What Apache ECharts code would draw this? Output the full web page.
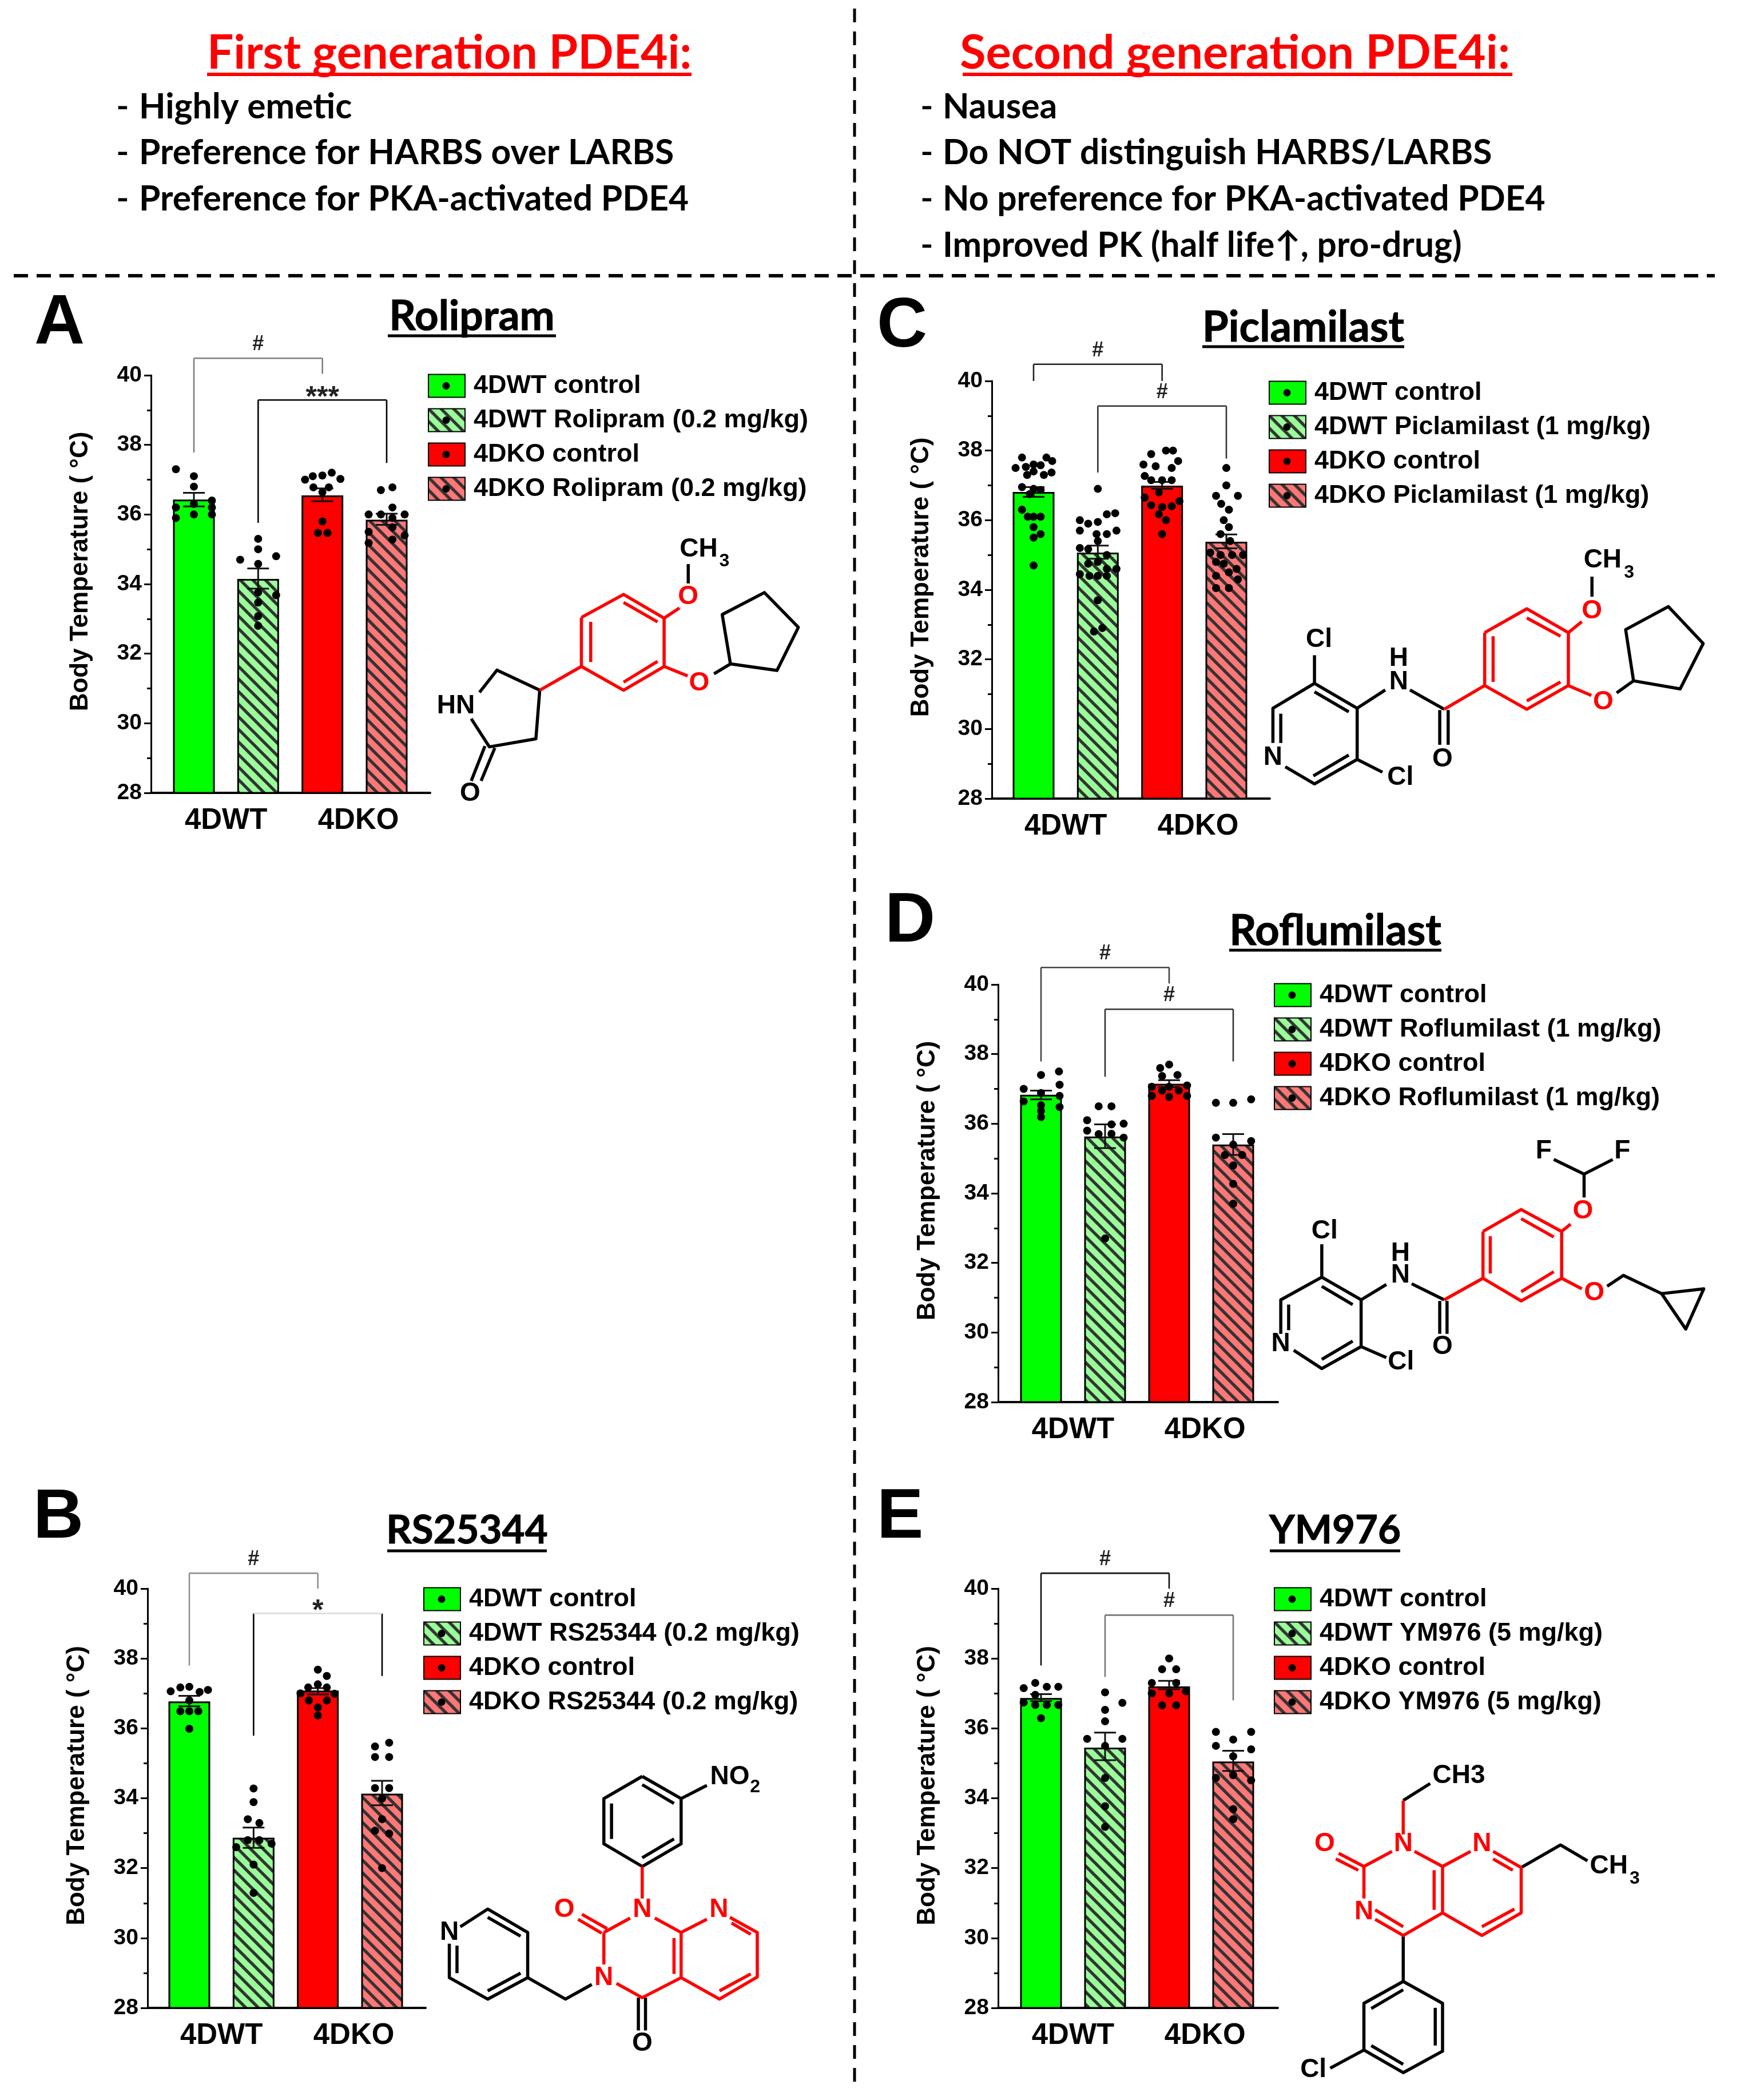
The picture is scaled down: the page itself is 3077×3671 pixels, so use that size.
<!DOCTYPE html>
<html><head><meta charset="utf-8">
<style>html,body{margin:0;padding:0;background:#fff}#c{width:3077px;height:3671px}</style>
<script src="https://cdn.jsdelivr.net/npm/echarts@6/dist/echarts.min.js"></script>
</head><body><div id="c"></div>
<script>
// ---------- data ----------
const categories = ['4DWT', '4DKO'];
const yTicks = [28, 30, 32, 34, 36, 38, 40];

const rolipramLegend = ['4DWT control', '4DWT Rolipram (0.2 mg/kg)', '4DKO control', '4DKO Rolipram (0.2 mg/kg)'];
const rolipramMeans = [36.43, 34.15, 36.55, 35.85];
const rolipramLow = [36.23, 33.87, 36.38, 35.7];
const rolipramHigh = [36.62, 34.45, 36.75, 36.02];
const rolipramDots1 = [[-.28,37.3],[0,37.1],[0,36.8],[-.28,36.2],[0,36.3],[.28,36.4],[.28,36.2],[.28,36.0],[-.28,35.9],[0,36.0]];
const rolipramDots2 = [[0,35.3],[0,35.0],[-.28,34.7],[.28,34.8],[0,34.58],[.28,33.68],[0,33.76],[0,33.47],[0,33.08],[0,32.8]];
const rolipramDots3 = [[-.27,37.0],[-.15,37.1],[0,37.12],[.145,37.2],[.28,37.02],[-.14,36.78],[.1,36.78],[0,36.64],[0,35.8],[-.07,35.47],[.08,35.47]];
const rolipramDots4 = [[-.09,36.7],[.09,36.78],[.09,36.2],[-.28,36.0],[-.09,36.0],[.28,36.0],[.09,35.9],[-.28,35.5],[.28,35.4],[.09,35.63],[.09,35.28],[-.28,35.18]];

const rsLegend = ['4DWT control', '4DWT RS25344 (0.2 mg/kg)', '4DKO control', '4DKO RS25344 (0.2 mg/kg)'];
const rsMeans = [36.77, 32.87, 37.08, 34.13];
const rsLow = [36.63, 32.58, 36.97, 33.8];
const rsHigh = [36.93, 33.16, 37.15, 34.5];
const rsDots1 = [[-.29,37.06],[-.14,37.17],[0,37.19],[.16,37.04],[.29,37.1],[0,36.8],[-.14,36.49],[0,36.49],[.14,36.49],[0,35.99]];
const rsDots2 = [[0,34.28],[0,33.89],[-.09,33.4],[.09,33.29],[-.09,32.8],[.09,32.8],[-.27,32.6],[.28,32.7],[0,32.1],[0,31.29]];
const rsDots3 = [[0,37.68],[.14,37.5],[-.15,37.17],[0,37.26],[.14,37.17],[.26,36.99],[-.27,37.0],[-.14,36.8],[.14,36.8],[0,36.6],[0,36.37]];
const rsDots4 = [[-.11,35.48],[.11,35.59],[-.11,35.18],[.11,35.18],[-.11,34.29],[.11,34.29],[0,33.99],[0,33.4],[-.11,33.07],[.11,32.99],[0,32.0]];

const piclaLegend = ['4DWT control', '4DWT Piclamilast (1 mg/kg)', '4DKO control', '4DKO Piclamilast (1 mg/kg)'];
const piclaMeans = [36.81, 35.07, 36.99, 35.38];
const piclaLow = [36.67, 34.89, 36.9, 35.19];
const piclaHigh = [36.95, 35.27, 37.1, 35.59];
const piclaDots1 = [[-.18,37.8],[.2,37.8],[0,37.6],[-.28,37.5],[-.12,37.53],[.11,37.58],[.29,37.7],[-.1,37.3],[0,37.4],[.16,37.3],[.28,37.37],[-.18,36.95],[0,36.9],[.11,36.87],[-.06,36.75],[-.18,36.3],[-.09,36.1],[0,36.1],[.11,36.1],[0,35.8],[.11,35.6],[0,35.5],[0,34.7]];
const piclaDots2 = [[0,36.9],[.14,36.17],[.27,36.2],[-.28,36.0],[-.15,35.9],[0,35.95],[-.28,35.7],[-.02,35.6],[.14,35.6],[.29,35.7],[0,35.4],[-.28,35.2],[-.15,35.17],[.14,35.0],[0,34.8],[-.15,34.75],[.14,34.6],[.29,34.6],[-.28,34.45],[-.13,34.4],[0,34.4],[.14,34.4],[0,33.7],[.07,32.9],[-.06,32.8]];
const piclaDots3 = [[-.17,37.9],[.06,38.0],[.17,38.0],[-.29,37.6],[-.1,37.55],[.25,37.7],[.15,37.5],[-.27,37.27],[-.17,37.15],[0,37.15],[.15,37.15],[-.05,36.8],[-.27,36.65],[.27,36.55],[-.17,36.43],[0,36.38],[.15,36.4],[-.05,36.17],[.06,36.0],[0,35.6]];
const piclaDots4 = [[0,37.5],[0,37.0],[-.16,36.7],[.18,36.7],[-.08,36.47],[.04,36.3],[-.04,36.0],[.04,35.8],[-.09,35.6],[.06,35.4],[-.25,35.07],[-.09,35.0],[.09,35.0],[.26,35.0],[-.16,34.8],[-.04,34.75],[.16,34.6],[-.16,34.4],[.04,34.5],[.18,34.3],[-.16,34.05],[.04,34.05]];

const roflLegend = ['4DWT control', '4DWT Roflumilast (1 mg/kg)', '4DKO control', '4DKO Roflumilast (1 mg/kg)'];
const roflMeans = [36.83, 35.63, 37.15, 35.4];
const roflLow = [36.7, 35.3, 37.05, 35.1];
const roflHigh = [36.95, 35.98, 37.25, 35.7];
const roflDots1 = [[.28,37.5],[0,37.4],[.29,37.12],[-.27,37.0],[0,36.88],[.29,36.8],[-.27,36.64],[0,36.53],[.29,36.48],[0,36.37],[0,36.19]];
const roflDots2 = [[-.1,36.5],[.1,36.5],[-.28,36.1],[.1,35.98],[.29,36.0],[-.28,35.8],[-.1,35.7],[.1,35.71],[.29,35.6],[0,32.7]];
const roflDots3 = [[0,37.7],[-.14,37.6],[-.11,37.37],[.13,37.4],[-.27,37.06],[0,37.06],[.28,37.1],[-.27,36.8],[-.11,36.95],[.15,36.95],[0,36.77],[.28,36.8]];
const roflDots4 = [[-.27,36.6],[0,36.6],[.28,36.7],[-.27,35.6],[.28,35.5],[0,35.4],[-.13,35.1],[.14,35.1],[0,34.8],[0,34.27],[0,33.7]];

const ymLegend = ['4DWT control', '4DWT YM976 (5 mg/kg)', '4DKO control', '4DKO YM976 (5 mg/kg)'];
const ymMeans = [36.87, 35.45, 37.2, 35.05];
const ymLow = [36.78, 35.09, 37.12, 34.78];
const ymHigh = [36.98, 35.88, 37.36, 35.36];
const ymDots1 = [[-.27,37.15],[-.09,37.3],[.09,37.19],[.27,37.19],[-.09,36.96],[-.27,36.74],[-.09,36.67],[.09,36.67],[.27,36.67],[0,36.29]];
const ymDots2 = [[0,37.03],[.27,36.73],[0,36.53],[0,36.2],[-.28,35.7],[.27,35.7],[0,35.5],[0,34.58],[0,33.77],[0,33.18]];
const ymDots3 = [[0,38.0],[-.11,37.69],[.11,37.69],[-.27,37.3],[.11,37.3],[-.27,37.0],[0,37.0],[.26,37.06],[-.11,36.66],[.11,36.66]];
const ymDots4 = [[-.27,35.9],[.28,35.9],[0,35.68],[-.27,35.5],[.28,35.4],[0,35.2],[-.27,34.58],[0,34.66],[.28,34.51],[0,33.69],[0,33.4]];

// significance brackets: x from, x to, top value, left foot value, right foot value, label
const rolipramBrackets = [[1,3,40.49,37.78,40.04,'#'],[2,4,39.29,35.76,37.48,'***']];
const rsBrackets = [[1,3,40.44,37.8,40.0,'#'],[2,4,39.29,35.79,37.5,'*']];
const piclaBrackets = [[1,3,40.48,40.0,40.0,'#'],[2,4,39.28,37.37,37.77,'#']];
const roflBrackets = [[1,3,40.49,37.79,40.03,'#'],[2,4,39.29,37.35,37.79,'#']];
const ymBrackets = [[1,3,40.44,37.8,40.0,'#'],[2,4,39.24,37.47,36.8,'#']];

// ---------- helpers ----------
const SANS = '"Liberation Sans", Arial, sans-serif';
const HEAD = 'Lato, "Open Sans", sans-serif';
function hatch(bg) {
  const n = 22, c = document.createElement('canvas');
  c.width = n; c.height = n;
  const g = c.getContext('2d');
  g.fillStyle = bg; g.fillRect(0, 0, n, n);
  g.strokeStyle = '#333'; g.lineWidth = 5.4;
  for (const d of [-n, 0, n]) { g.beginPath(); g.moveTo(d - 2, -2); g.lineTo(d + n + 2, n + 2); g.stroke(); }
  return { image: c, repeat: 'repeat' };
}
const fills = ['#00FF00', hatch('#99FF99'), '#FF0000', hatch('#FF7777')];

const panels = [
  { title:'Rolipram', titleSize:73, titleBox:[678,972,587], letter:'A', letterPos:[60,628], axisX:264, right:752, y40:656, y28:1386, cx:[339,676], barW:73,
    legend:rolipramLegend, legendPos:[748,653], means:rolipramMeans, low:rolipramLow, high:rolipramHigh, dots:[rolipramDots1,rolipramDots2,rolipramDots3,rolipramDots4], brackets:rolipramBrackets, bracketColors:['#808080','#000'] },
  { title:'RS25344', titleSize:69, titleBox:[677,956,2711], letter:'B', letterPos:[58,2715], axisX:258, right:744, y40:2777, y28:3510, cx:[331,668], barW:73,
    legend:rsLegend, legendPos:[740,2774], means:rsMeans, low:rsLow, high:rsHigh, dots:[rsDots1,rsDots2,rsDots3,rsDots4], brackets:rsBrackets, bracketColors:['#909090','#000'], topColors:[null,'#DDD'] },
  { title:'Piclamilast', titleSize:74, titleBox:[2102,2455,606], letter:'C', letterPos:[1533,633], axisX:1734, right:2220, y40:666, y28:1396, cx:[1807,2144], barW:73,
    legend:piclaLegend, legendPos:[2218,665], means:piclaMeans, low:piclaLow, high:piclaHigh, dots:[piclaDots1,piclaDots2,piclaDots3,piclaDots4], brackets:piclaBrackets, bracketColors:['#222','#333'] },
  { title:'Roflumilast', titleSize:74, titleBox:[2149,2520,1661], letter:'D', letterPos:[1547,1673], axisX:1745, right:2234, y40:1721, y28:2451, cx:[1820,2156], barW:73,
    legend:roflLegend, legendPos:[2227,1718], means:roflMeans, low:roflLow, high:roflHigh, dots:[roflDots1,roflDots2,roflDots3,roflDots4], brackets:roflBrackets, bracketColors:['#444','#333'] },
  { title:'YM976', titleSize:69, titleBox:[2220,2448,2711], letter:'E', letterPos:[1533,2715], axisX:1745, right:2234, y40:2777, y28:3510, cx:[1820,2156], barW:73,
    legend:ymLegend, legendPos:[2227,2774], means:ymMeans, low:ymLow, high:ymHigh, dots:[ymDots1,ymDots2,ymDots3,ymDots4], brackets:ymBrackets, bracketColors:['#111','#777'] }
];

const grid = [], xAxis = [], yAxis = [], series = [], legend = [], title = [], elements = [];

function text(t, x, y, font, fill, align, vAlign, extra) {
  elements.push(Object.assign({ type:'text', x, y, z:100, silent:true,
    style:{ text:t, font, fill:fill||'#000', align:align||'left', verticalAlign:vAlign||'bottom' } }, extra||{}));
}
function line(x1, y1, x2, y2, color, w, dash) {
  elements.push({ type:'line', z:90, silent:true, shape:{x1,y1,x2,y2},
    style:{ stroke:color||'#000', lineWidth:w||5, lineDash:dash||null } });
}

panels.forEach((p, i) => {
  const unit = (p.cx[1] - p.cx[0]) / 3;
  grid.push({ left:p.axisX, top:p.y40, width:p.right - p.axisX, height:p.y28 - p.y40, containLabel:false });
  xAxis.push({ gridIndex:i, type:'value', min:1 - (p.cx[0] - p.axisX) / unit, max:4 + (p.right - p.cx[1]) / unit,
    axisLine:{ show:true, onZero:false, lineStyle:{ color:'#000', width:4 } }, axisTick:{ show:false }, splitLine:{ show:false },
    axisLabel:{ show:true, customValues:[1.5, 3.56], formatter:v => v < 2.5 ? categories[0] : categories[1],
      color:'#000', fontFamily:SANS, fontWeight:'bold', fontSize:51, margin:23 } });
  yAxis.push({ gridIndex:i, type:'value', min:yTicks[0], max:yTicks[yTicks.length-1], interval:2,
    name:'Body Temperature ( \u00B0C)', nameLocation:'middle', nameRotate:90, nameGap:101,
    nameTextStyle:{ color:'#000', fontFamily:SANS, fontWeight:'bold', fontSize:44, padding:[0,0,0,44] },
    axisLine:{ show:true, onZero:false, lineStyle:{ color:'#000', width:3 } },
    axisTick:{ show:true, length:12, lineStyle:{ color:'#000', width:3 } },
    minorTick:{ show:true, splitNumber:2, length:7, lineStyle:{ color:'#000', width:3 } },
    splitLine:{ show:false }, minorSplitLine:{ show:false },
    axisLabel:{ color:'#000', fontFamily:SANS, fontWeight:'bold', fontSize:39, margin:16 } });

  p.means.forEach((m, k) => {
    series.push({ type:'bar', name:p.legend[k], xAxisIndex:i, yAxisIndex:i, barWidth:p.barW, barGap:'-100%',
      data:[[k + 1, m]], z:2, itemStyle:{ color:fills[k], borderColor:'#000', borderWidth:3 }, silent:true, animation:false });
  });
  // error bars
  series.push({ type:'custom', xAxisIndex:i, yAxisIndex:i, z:3, silent:true, animation:false, clip:false,
    data:p.means.map((m, k) => [k + 1, p.low[k], p.high[k]]),
    encode:{ x:0, y:[1,2] },
    renderItem:(params, api) => {
      const a = api.coord([api.value(0), api.value(1)]), b = api.coord([api.value(0), api.value(2)]);
      const st = { stroke:'#111', lineWidth:3 };
      return { type:'group', children:[
        { type:'line', shape:{ x1:a[0], y1:a[1], x2:b[0], y2:b[1] }, style:st },
        { type:'line', shape:{ x1:a[0]-19, y1:a[1], x2:a[0]+19, y2:a[1] }, style:st },
        { type:'line', shape:{ x1:b[0]-19, y1:b[1], x2:b[0]+19, y2:b[1] }, style:st } ] };
    } });
  // individual animals
  p.dots.forEach((d, k) => {
    series.push({ type:'scatter', xAxisIndex:i, yAxisIndex:i, z:4, symbol:'circle', symbolSize:14, silent:true, animation:false,
      itemStyle:{ color:'#000', opacity:1 }, data:d.map(v => [k + 1 + v[0], v[1]]) });
  });
  // brackets
  series.push({ type:'custom', xAxisIndex:i, yAxisIndex:i, z:5, silent:true, animation:false, clip:false,
    data:p.brackets.map((b, j) => b.concat(p.bracketColors[j])),
    encode:{ x:[0,1], y:[2,3,4] },
    renderItem:(params, api) => {
      const x1 = api.value(0), x2 = api.value(1), top = api.value(2);
      const tl = api.coord([x1, top]), tr = api.coord([x2, top]);
      const fl = api.coord([x1, api.value(3)]), fr = api.coord([x2, api.value(4)]);
      const mid = api.coord([(x1 + x2) / 2, top]);
      const src = p.brackets[params.dataIndex];
      const hash = src[5] === '#';
      const col = p.bracketColors[params.dataIndex];
      const topCol = (p.topColors && p.topColors[params.dataIndex]) || col;
      return { type:'group', children:[
        { type:'polyline', shape:{ points:[fl, tl] }, style:{ stroke:col, lineWidth:2.6, fill:null } },
        { type:'polyline', shape:{ points:[tr, fr] }, style:{ stroke:col, lineWidth:2.6, fill:null } },
        { type:'polyline', shape:{ points:[tl, tr] }, style:{ stroke:topCol, lineWidth:2.6, fill:null } },
        { type:'text', x:mid[0], y:mid[1] + (hash ? -6 : 22), style:{ text:src[5], font:'bold ' + (hash ? 36 : 50) + 'px ' + SANS, fill:'#222', align:'center', verticalAlign:'bottom' } } ] };
    } });

  legend.push({ orient:'vertical', left:p.legendPos[0], top:p.legendPos[1] - 1, itemWidth:64, itemHeight:40, itemGap:15, padding:0,
    icon:'rect', selectedMode:false, data:p.legend, animation:false,
    textStyle:{ color:'#000', fontFamily:SANS, fontWeight:'bold', fontSize:45, padding:[0,0,0,10] } });
  p.legend.forEach((n, k) => {
    elements.push({ type:'circle', z:100, silent:true, shape:{ cx:p.legendPos[0] + 32, cy:p.legendPos[1] + 21.5 + 60 * k, r:6.5 }, style:{ fill:'#000' } });
  });

  const [tl, tr, ul] = p.titleBox;
  title.push({ text:p.title, left:(tl + tr) / 2, top:ul - 70, textAlign:'center', padding:0,
    textStyle:{ color:'#000', fontFamily:HEAD, fontWeight:'bold', fontSize:p.titleSize, textBorderColor:'#000', textBorderWidth:1 } });
  line(tl, ul, tr, ul, '#000', 5);
  text(p.letter, p.letterPos[0], p.letterPos[1], 'bold 122px ' + SANS, '#000');
});

// ---------- header text ----------
const firstGen = ['Highly emetic', 'Preference for HARBS over LARBS', 'Preference for PKA-activated PDE4'];
const secondGen = ['Nausea', 'Do NOT distinguish HARBS/LARBS', 'No preference for PKA-activated PDE4', 'Improved PK (half life\u2191, pro-drug)'];
const rowY = [206, 286, 367, 448];
text('First generation PDE4i:', 362, 135, 'bold 82px ' + HEAD, '#FF0000');
text('Second generation PDE4i:', 1678, 135, 'bold 83px ' + HEAD, '#FF0000');
line(362, 130, 1209, 130, '#FF0000', 6);
line(1683, 130, 2644, 130, '#FF0000', 6);
firstGen.forEach((t, i) => { text('-', 203, rowY[i] + 12, '600 61px ' + HEAD); text(t, 243, rowY[i] + 12, 'bold 60.5px ' + HEAD); });
secondGen.forEach((t, i) => { text('-', 1609, rowY[i] + 12, '600 61px ' + HEAD); text(t, 1648, rowY[i] + 12, 'bold 60.5px ' + HEAD); });
line(1494, 15, 1494, 3645, '#000', 5, [24, 16]);
line(24, 482, 2998, 482, '#000', 6, [25, 15]);

// ---------- molecule drawings (decorative, positions in crop space) ----------
function molecule(x0, y0, sx, sy, red, black, labels) {
  const map = a => { const pts = []; for (let i = 0; i < a.length; i += 2) pts.push([x0 + a[i] * sx, y0 + a[i+1] * sy]); return pts; };
  const add = (lst, col) => lst.forEach(a => elements.push({ type:'polyline', z:95, silent:true, shape:{ points:map(a) },
    style:{ stroke:col, lineWidth:5.5, fill:null, lineJoin:'round' } }));
  add(black, '#000'); add(red, '#FF0000');
  labels.forEach(l => {
    const small = l[3] === 's';
    text(l[0], x0 + l[1] * sx, y0 + l[2] * sy, 'bold ' + (small ? '32px ' : '46px ') + SANS, l[3] === 'r' ? '#FF0000' : '#000', 'center', 'middle');
  });
}
const A = [0, 480, .958, .639], C = [1540, 500, .982, .639], D = [1540, 1600, .982, .639], B = [0, 2640, .958, .659], E = [1540, 2640, .982, .659];
molecule(...A,
  [[1061,938,1138,875,1212,940,1212,1072,1138,1137,1061,1072,1061,938],[1078,950,1078,1060],[1138,897,1200,950],[1138,1115,1200,1058],[1061,1072,985,1137],[1212,940,1240,912],[1212,1072,1255,1098]],
  [[1256,792,1256,845],[1303,1092,1333,1065,1418,1083,1457,965,1395,870,1318,930,1333,1065],[985,1137,907,1082,875,1143],[860,1215,893,1292,978,1270,985,1137],[885,1290,860,1385],[903,1295,878,1385]],
  [['O',1256,882,'r'],['O',1276,1118,'r'],['CH',1275,752],['3',1322,785,'s'],['HN',832,1180],['O',858,1420]]);
molecule(...C,
  [[1075,948,1150,883,1224,948,1224,1093,1150,1158,1075,1093,1075,948],[1090,958,1090,1083],[1150,908,1210,958],[1150,1135,1210,1083],[1075,1093,1003,1158],[1224,948,1248,918],[1224,1093,1265,1120]],
  [[1266,795,1266,850],[1310,1113,1340,1080,1423,1102,1464,978,1402,877,1326,940,1340,1080],[1003,1158,942,1105],[995,1160,995,1255],[1010,1160,1010,1255],[848,1155,898,1105],[720,1315,772,1362,848,1295,848,1155,772,1087,698,1155,698,1250],[772,1110,833,1165],[770,1340,833,1283],[712,1170,712,1250],[772,1087,772,1010],[848,1295,893,1330]],
  [['O',1266,890,'r'],['O',1286,1138,'r'],['CH',1285,750],['3',1332,785,'s'],['O',1000,1295],['H',922,1020],['N',922,1083],['N',698,1290],['Cl',780,968],['Cl',925,1345]]);
molecule(...D,
  [[1072,865,1140,805,1212,865,1212,993,1140,1055,1072,993,1072,865],[1085,878,1085,980],[1140,830,1198,880],[1140,1030,1198,975],[1072,993,1003,1052],[1212,865,1228,845],[1212,993,1248,1022]],
  [[1252,772,1252,708],[1198,668,1252,708,1303,668],[1293,1015,1322,985,1390,1035],[1390,1035,1465,1022,1433,1132,1390,1035],[995,1055,995,1145],[1008,1055,1008,1145],[1003,1052,945,1008],[855,1052,900,1010],[735,1190,785,1240,855,1180,855,1052,785,990,712,1052,712,1145],[785,1015,840,1065],[785,1215,840,1165],[726,1065,726,1135],[785,990,785,900],[855,1180,900,1210]],
  [['O',1250,810,'r'],['O',1270,1033,'r'],['F',1180,645],['F',1320,645],['O',1000,1180],['H',925,925],['N',925,985],['N',712,1172],['Cl',790,865],['Cl',926,1222]]);
molecule(...B,
  [[1172,945,1172,1030],[1102,1120,1150,1082],[1195,1082,1243,1120,1243,1240,1172,1293,1125,1255],[1102,1205,1102,1120],[1243,1120,1290,1085],[1332,1080,1382,1120,1382,1238,1313,1297,1243,1240],[1230,1135,1230,1230],[1335,1095,1370,1125],[1370,1230,1313,1275],[1098,1122,1055,1085],[1108,1110,1062,1072]],
  [[1172,706,1243,765,1243,885,1172,945,1102,885,1102,765,1172,706],[1172,728,1230,778],[1172,922,1230,872],[1116,778,1116,872],[1243,765,1290,730],[1165,1293,1165,1380],[1178,1293,1178,1380],[1080,1258,1032,1297,963,1240],[840,1105,890,1058,963,1120,963,1240,890,1297,820,1240,820,1150],[890,1080,950,1130],[890,1275,950,1228],[834,1155,834,1228]],
  [['N',1172,1060,'r'],['N',1312,1060,'r'],['O',1030,1060,'r'],['N',1102,1240,'r'],['O',1172,1415],['N',820,1120],['NO',1332,708],['2',1378,735,'s']]);
molecule(...E,
  [[860,945,910,905],[950,905,1000,945,1050,905],[1090,905,1140,948,1140,1068,1070,1128,1000,1068],[1000,945,1000,1068],[985,955,985,1060],[1000,1068,930,1128,880,1085],[860,1030,860,945],[880,1060,930,1105],[1070,1105,1128,1058],[1090,925,1125,955],[860,945,815,910],[850,955,810,925],[930,860,930,770]],
  [[930,770,978,725],[1140,948,1210,888,1258,930],[930,1128,930,1250],[930,1250,1000,1308,1000,1435,930,1492,860,1432,860,1308,930,1250],[930,1272,873,1322],[987,1320,987,1420],[930,1470,873,1420],[860,1432,800,1480]],
  [['O',790,885,'r'],['N',930,885,'r'],['N',1070,885,'r'],['N',860,1065,'r'],['CH3',1029,705],['CH',1296,945],['3',1342,978,'s'],['Cl',770,1485]]);

const chart = echarts.init(document.getElementById('c'), null, { width:3077, height:3671, renderer:'canvas' });
chart.setOption({ animation:false, backgroundColor:'#fff', tooltip:{ show:false }, grid, xAxis, yAxis, series, legend, title, graphic:{ elements } });
</script></body></html>
